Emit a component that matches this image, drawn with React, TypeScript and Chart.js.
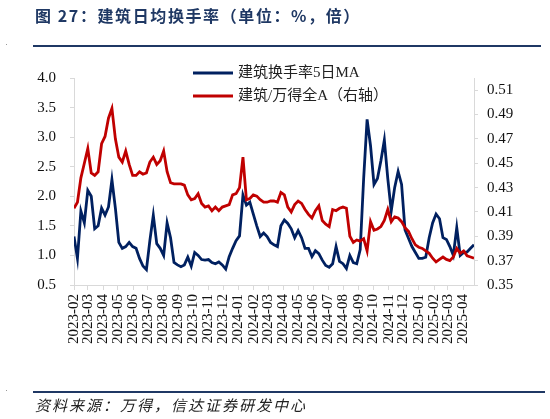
import React, { useEffect, useRef } from "react";
import { Chart, registerables } from "chart.js";

Chart.register(...registerables);

// ---------- data ----------
const START_DATE = "2023-02-01"; // first weekly observation

const MONTH_LABELS = [
  "2023-02", "2023-03", "2023-04", "2023-05", "2023-06", "2023-07", "2023-08",
  "2023-09", "2023-10", "2023-11", "2023-12", "2024-01", "2024-02", "2024-03",
  "2024-04", "2024-05", "2024-06", "2024-07", "2024-08", "2024-09", "2024-10",
  "2024-11", "2024-12", "2025-01", "2025-02", "2025-03", "2025-04",
];

const LEFT_TICKS = [0.5, 1.0, 1.5, 2.0, 2.5, 3.0, 3.5, 4.0];
const RIGHT_TICKS = [0.35, 0.37, 0.39, 0.41, 0.43, 0.45, 0.47, 0.49, 0.51];

const SERIES_NAMES = ["建筑换手率5日MA", "建筑/万得全A（右轴）"];

// 建筑换手率5日MA (%), weekly
const TURNOVER = [
  1.32, 0.95, 1.75, 1.55, 2.1, 2.0, 1.45, 1.5, 1.8, 1.68,
  1.82, 2.28, 1.8, 1.22, 1.12, 1.15, 1.22, 1.15, 1.12, 0.95,
  0.82, 0.76, 1.25, 1.68, 1.2, 1.12, 1.0, 1.55, 1.3, 0.88,
  0.84, 0.81, 0.84, 0.97, 0.82, 1.05, 1.0, 0.93, 0.92, 0.93,
  0.88, 0.86, 0.89, 0.84, 0.77, 0.98, 1.12, 1.25, 1.33, 2.02,
  1.85, 1.9, 1.7, 1.5, 1.32, 1.38, 1.32, 1.22, 1.18, 1.15,
  1.5, 1.6, 1.54, 1.45, 1.3, 1.42, 1.3, 1.12, 1.12, 0.98,
  1.08, 1.03, 0.92, 0.83, 0.8, 0.86, 1.15, 0.9, 0.86, 0.78,
  1.0, 0.88, 0.86, 1.1, 2.3, 3.3, 2.85, 2.2, 2.3, 2.6,
  2.95, 2.3, 1.75, 2.15, 2.42, 2.2, 1.43, 1.29, 1.15, 1.05,
  0.95, 0.95, 0.97, 1.3, 1.55, 1.7, 1.62, 1.3, 1.27, 1.15,
  1.0, 1.47, 1.0, 1.05, 1.06, 1.12, 1.18,
];

// 建筑/万得全A (倍), weekly, right axis
const RATIO = [
  0.413, 0.418, 0.438, 0.45, 0.462, 0.442, 0.44, 0.443, 0.466, 0.472,
  0.487, 0.495, 0.47, 0.455, 0.451, 0.46, 0.449, 0.44, 0.44, 0.443,
  0.441, 0.442, 0.451, 0.455, 0.449, 0.452, 0.46, 0.443, 0.434, 0.433,
  0.433, 0.433, 0.432, 0.424, 0.42, 0.421, 0.425, 0.417, 0.414, 0.415,
  0.411, 0.414, 0.411, 0.414, 0.415, 0.416, 0.424, 0.425, 0.43, 0.455,
  0.42, 0.421, 0.424, 0.423, 0.42, 0.418, 0.418, 0.419, 0.419, 0.418,
  0.426, 0.424, 0.414, 0.41, 0.416, 0.419, 0.417, 0.412, 0.408, 0.405,
  0.411, 0.415, 0.403, 0.4, 0.398, 0.412, 0.411, 0.413, 0.414, 0.413,
  0.39, 0.385, 0.387, 0.386, 0.388, 0.378, 0.402, 0.395, 0.396, 0.398,
  0.403, 0.412, 0.402, 0.406, 0.405, 0.402, 0.397, 0.394, 0.388, 0.383,
  0.381, 0.38, 0.378, 0.376, 0.372, 0.369, 0.371, 0.373, 0.371, 0.37,
  0.373, 0.38, 0.376, 0.378, 0.374, 0.373, 0.372,
];

// ---------- helpers ----------
const DAY_MS = 86400000;
const T0 = Date.parse(START_DATE + "T00:00:00Z");
const dayOffset = (iso: string) =>
  Math.round((Date.parse(iso + "T00:00:00Z") - T0) / DAY_MS);
const DATES = TURNOVER.map((_, i) =>
  new Date(T0 + i * 7 * DAY_MS).toISOString().slice(0, 10)
);

const AXIS_GRAY = "#d9d9d9";
const BLUE = "#002060";
const RED = "#c00000";
const NAVY = "#1f3864";

const legendPlugin = {
  id: "customLegend",
  afterDraw(chart: any) {
    const ctx = chart.ctx;
    const area = chart.chartArea;
    chart.data.datasets.forEach((ds: any, i: number) => {
      const y = area.top - 5 + i * 23;
      const x0 = area.left + 119;
      ctx.save();
      ctx.strokeStyle = ds.borderColor;
      ctx.lineWidth = 3;
      ctx.beginPath();
      ctx.moveTo(x0, y);
      ctx.lineTo(x0 + 40, y);
      ctx.stroke();
      ctx.fillStyle = "#222";
      ctx.font = '15px "Liberation Serif", "Noto Sans CJK SC"';
      ctx.textBaseline = "middle";
      ctx.textAlign = "left";
      ctx.fillText(ds.label, x0 + 45, y);
      ctx.restore();
    });
  },
};

export default function App() {
  const canvasRef = useRef<HTMLCanvasElement | null>(null);

  useEffect(() => {
    if (!canvasRef.current) return;
    const xMax = dayOffset(DATES[DATES.length - 1]);
    const tickFont = { family: '"Liberation Serif", "Times New Roman", serif', size: 15 };
    const chart = new Chart(canvasRef.current, {
      type: "line",
      data: {
        datasets: [
          {
            label: SERIES_NAMES[0],
            data: DATES.map((d, i) => ({ x: dayOffset(d), y: TURNOVER[i] })),
            borderColor: BLUE,
            backgroundColor: BLUE,
            borderWidth: 2.8,
            pointRadius: 0,
            tension: 0,
            yAxisID: "y",
            order: 1,
          },
          {
            label: SERIES_NAMES[1],
            data: DATES.map((d, i) => ({ x: dayOffset(d), y: RATIO[i] })),
            borderColor: RED,
            backgroundColor: RED,
            borderWidth: 2.8,
            pointRadius: 0,
            tension: 0,
            yAxisID: "y1",
            order: 0,
          },
        ],
      },
      options: {
        responsive: false,
        animation: false,
        layout: { padding: { top: 78, left: 0, right: 0, bottom: 0 } },
        plugins: {
          legend: { display: false },
          tooltip: { enabled: false },
          title: { display: false },
        },
        scales: {
          x: {
            type: "linear",
            min: 0,
            max: xMax,
            afterBuildTicks: (s: any) => {
              s.ticks = MONTH_LABELS.map((m) => ({ value: dayOffset(m + "-01") }));
            },
            afterFit: (s: any) => {
              s.height = 134;
            },
            grid: {
              display: true,
              drawOnChartArea: false,
              drawTicks: true,
              tickLength: 5,
              color: AXIS_GRAY,
            },
            border: { display: true, color: AXIS_GRAY, width: 1 },
            ticks: {
              autoSkip: false,
              minRotation: 90,
              maxRotation: 90,
              padding: 4,
              color: "#111",
              font: { family: tickFont.family, size: 15 },
              callback: (_v: any, i: number) => MONTH_LABELS[i],
            },
          },
          y: {
            position: "left",
            min: 0.5,
            max: 4.0,
            afterBuildTicks: (s: any) => {
              s.ticks = LEFT_TICKS.map((v) => ({ value: v }));
            },
            afterFit: (s: any) => {
              s.width = 74;
            },
            grid: { drawOnChartArea: false, tickLength: 4, color: AXIS_GRAY },
            border: { display: true, color: AXIS_GRAY, width: 1 },
            ticks: {
              padding: 14,
              color: "#111",
              font: tickFont,
              callback: (v: any) => Number(v).toFixed(1),
            },
          },
          y1: {
            position: "right",
            min: 0.35,
            max: 0.52,
            afterBuildTicks: (s: any) => {
              s.ticks = RIGHT_TICKS.map((v) => ({ value: v }));
            },
            afterFit: (s: any) => {
              s.width = 76;
            },
            grid: { drawOnChartArea: false, tickLength: 4, color: AXIS_GRAY },
            border: { display: true, color: AXIS_GRAY, width: 1 },
            ticks: {
              padding: 9,
              color: "#111",
              font: tickFont,
              callback: (v: any) => Number(v).toFixed(2),
            },
          },
        },
      } as any,
      plugins: [legendPlugin],
    });
    return () => chart.destroy();
  }, []);

  return (
    <div
      style={{
        position: "absolute",
        left: 0,
        top: 0,
        width: 550,
        height: 419,
        background: "#fff",
        overflow: "hidden",
      }}
    >
      <canvas
        ref={canvasRef}
        width={550}
        height={419}
        style={{ position: "absolute", left: 0, top: 0, width: 550, height: 419 }}
      />
      <div
        style={{
          position: "absolute",
          left: 35,
          top: 5,
          height: 20,
          lineHeight: "20px",
          fontFamily: '"Noto Sans CJK SC", sans-serif',
          fontWeight: 700,
          fontSize: 16,
          letterSpacing: "1.6px",
          color: NAVY,
          whiteSpace: "nowrap",
        }}
      >
        图 27：建筑日均换手率（单位：%，倍）
      </div>
      <div style={{ position: "absolute", left: 33, top: 45, width: 508, height: 2, background: NAVY }} />
      <div style={{ position: "absolute", left: 33, top: 391, width: 512, height: 2, background: NAVY }} />
      <div style={{ position: "absolute", left: 6, top: 44, width: 1, height: 1, background: "#999" }} />
      <div style={{ position: "absolute", left: 6, top: 390, width: 1, height: 1, background: "#999" }} />
      <div
        style={{
          position: "absolute",
          left: 35,
          top: 395,
          height: 20,
          lineHeight: "20px",
          fontFamily: '"Noto Sans CJK SC", sans-serif',
          fontStyle: "italic",
          fontSize: 15,
          letterSpacing: "2px",
          color: "#222",
          whiteSpace: "nowrap",
        }}
      >
        资料来源：万得，信达证券研发中心
      </div>
    </div>
  );
}
